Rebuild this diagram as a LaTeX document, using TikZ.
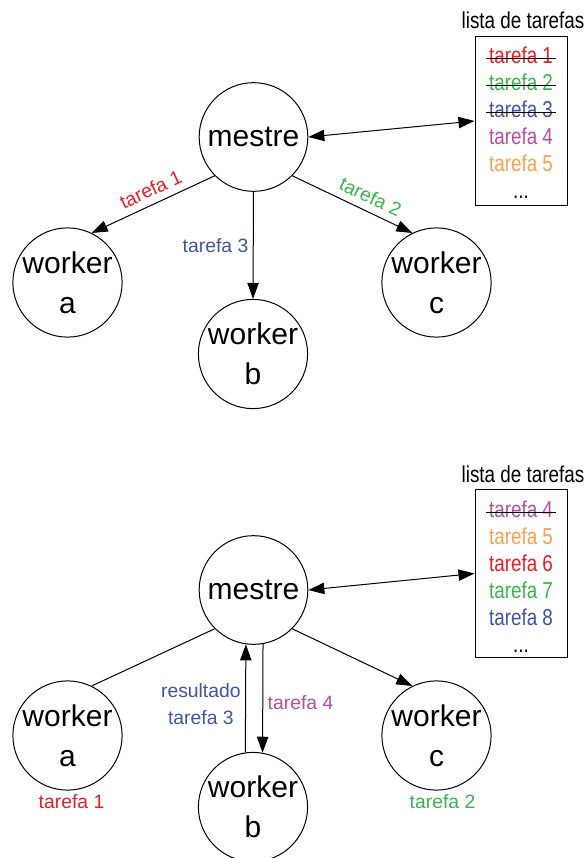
\documentclass[tikz,border=0pt]{standalone}
\usepackage{fontspec}
\setmainfont{Liberation Sans}
\newfontfamily\narrowfont{Liberation Sans}[FakeStretch=0.82]
\usetikzlibrary{arrows.meta}
\definecolor{tred}{RGB}{237,28,36}
\definecolor{tgreen}{RGB}{57,181,74}
\definecolor{tblue}{RGB}{64,85,166}
\definecolor{tpink}{RGB}{181,78,160}
\definecolor{torange}{RGB}{250,160,80}
\tikzset{
	proc/.style={draw,circle,line width=0.75pt,minimum size=81.5pt,inner sep=0pt,align=center,font=\fontsize{22.5}{30}\selectfont},
	seta/.style={line width=0.75pt,-{Triangle[length=12pt,width=8.5pt]}},
	setas/.style={line width=0.75pt,{Triangle[length=12pt,width=8.5pt]}-{Triangle[length=12pt,width=8.5pt]}},
	lbl/.style={font=\fontsize{14.5}{20}\selectfont},
	item/.style={font=\narrowfont\fontsize{17.25}{20}\selectfont,inner sep=0pt,anchor=base},
	lista/.style={draw,line width=0.75pt,minimum width=69pt,minimum height=126.5pt}
}
\begin{document}
\begin{tikzpicture}[x=0.75pt,y=-0.75pt]
	\useasboundingbox (0,0) rectangle (587,858);
	% antes
	\node[proc] (m1) at (253.5,137) {mestre};
	\node[proc] (a1) at (67.5,282.5) {worker\\a};
	\node[proc] (b1) at (253,354) {worker\\b};
	\node[proc] (c1) at (436.5,282.5) {worker\\c};
	\node[lista] (l1) at (521,121) {};
	\node[item] (n1) at (523,28) {lista de tarefas};
	\foreach \t/\c/\y in {1/tred/63,2/tgreen/90,3/tblue/117,4/tpink/144,5/torange/171}
		\node[item,text=\c] (p\t) at (521,\y) {tarefa \t};
	\node[item] (d1) at (521,198) {...};
	\foreach \t in {1,2,3}
		\draw[line width=0.75pt] ([xshift=-2pt,yshift=3.75pt]p\t.base west) -- ([xshift=2pt,yshift=3.75pt]p\t.base east);
	\draw[setas] (m1.east) -- (l1.west);
	\draw[seta] (m1.-135) -- node[lbl,text=tred,sloped,above=2pt,pos=0.47] {tarefa 1} (a1.64);
	\draw[seta] (m1.south) -- node[lbl,text=tblue,left] {tarefa 3} (b1.north);
	\draw[seta] (m1.-45) -- node[lbl,text=tgreen,sloped,above=2pt,pos=0.6] {tarefa 2} (c1.116);
	% depois
	\node[proc] (m2) at (253.5,590) {mestre};
	\node[proc] (a2) at (67.5,735.5) {worker\\a};
	\node[proc] (b2) at (253,807) {worker\\b};
	\node[proc] (c2) at (436.5,735.5) {worker\\c};
	\node[lista] (l2) at (521,573.5) {};
	\node[item] (n2) at (523,482) {lista de tarefas};
	\foreach \t/\c/\y in {4/tpink/517,5/torange/544,6/tred/571,7/tgreen/598,8/tblue/625}
		\node[item,text=\c] (q\t) at (521,\y) {tarefa \t};
	\node[item] (d2) at (521,652) {...};
	\draw[line width=0.75pt] ([xshift=-2pt,yshift=3.75pt]q4.base west) -- ([xshift=2pt,yshift=3.75pt]q4.base east);
	\draw[setas] (m2.east) -- (l2.west);
	\draw[line width=0.75pt] (m2.-135) -- (a2.64);
	\draw[seta] (b2.98.5) -- node[lbl,text=tblue,left,align=center,pos=0.45] {resultado\\tarefa 3} (m2.-98.5);
	\draw[seta] (m2.-80) -- node[lbl,text=tpink,right,pos=0.54] {tarefa 4} (b2.80);
	\draw[seta] (m2.-45) -- (c2.116);
	\node[lbl,text=tred] (t1) at (71.5,802) {tarefa 1};
	\node[lbl,text=tgreen] (t2) at (442.5,802) {tarefa 2};
\end{tikzpicture}
\end{document}
